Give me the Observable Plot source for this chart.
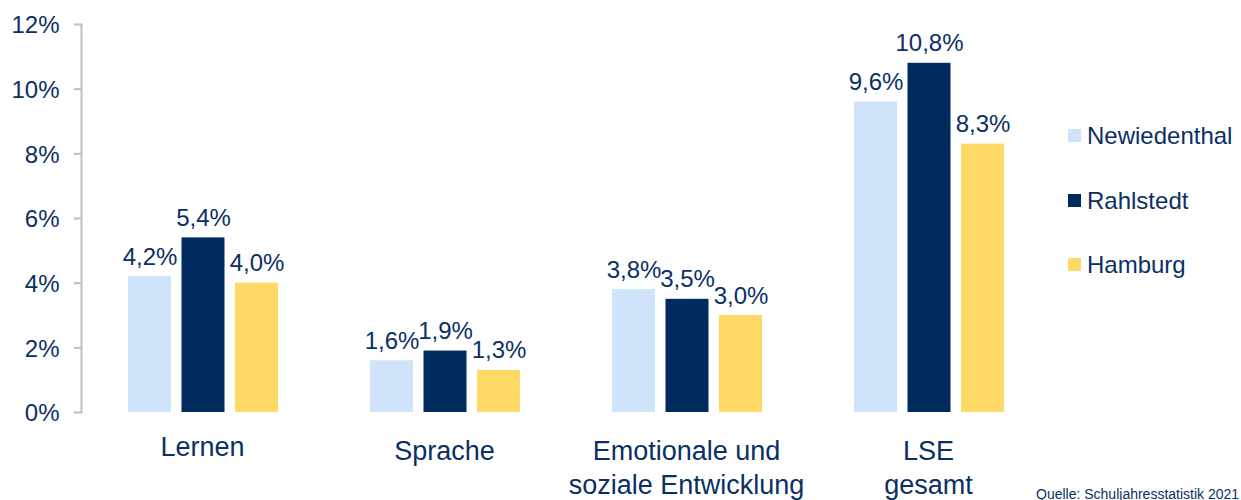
<!DOCTYPE html>
<html>
<head>
<meta charset="utf-8">
<script src="https://cdn.jsdelivr.net/npm/d3@7"></script>
<script src="https://cdn.jsdelivr.net/npm/@observablehq/plot@0.6"></script>
<style>
  html, body { margin: 0; padding: 0; background: #fff; overflow: hidden; }
  #wrap { position: relative; width: 1241px; height: 500px; font-family: "Liberation Sans", Arial, sans-serif; color: #0b2f64; }
  #chart svg { display: block; }
  .lg { position: absolute; left: 1068px; height: 24px; display: flex; align-items: center; font-size: 24px; line-height: 24px; white-space: nowrap; }
  .lg .sw { width: 13px; height: 13px; margin-right: 6px; }
  #src { position: absolute; left: 1036px; top: 487px; font-size: 14px; line-height: 14px; white-space: nowrap; }
</style>
</head>
<body>
<div id="wrap">
  <div id="chart"></div>
</div>
<script>
// ---- data ----
const categories = ["Lernen", "Sprache", "Emotionale und\nsoziale Entwicklung", "LSE\ngesamt"];
const series = ["Newiedenthal", "Rahlstedt", "Hamburg"];
const newiedenthal = [4.2, 1.6, 3.8, 9.6];
const rahlstedt = [5.4, 1.9, 3.5, 10.8];
const hamburg = [4.0, 1.3, 3.0, 8.3];
const yTicks = [0, 2, 4, 6, 8, 10, 12];
const sourceText = "Quelle: Schuljahresstatistik 2021";

// ---- styles ----
const colors = ["#cfe4fa", "#002b5e", "#ffd966"];
const textColor = "#0b2f64";
const axisColor = "#bfbfbf";

const values = [newiedenthal, rahlstedt, hamburg];
const rows = [];
series.forEach((s, i) => categories.forEach((c, j) => rows.push({cat: c, series: s, si: i, value: values[i][j]})));

const band = 242, barW = 43, step = 53.5;
const fmt = v => v.toFixed(1).replace(".", ",") + "%";

const marks = [];
series.forEach((s, i) => {
  const data = rows.filter(d => d.si === i);
  const center = band / 2 + (i - 1) * step + 1;
  const insetLeft = center - barW / 2;
  const insetRight = band - insetLeft - barW;
  marks.push(Plot.barY(data, {x: "cat", y: "value", fill: "series", insetLeft, insetRight}));
  marks.push(Plot.text(data, {x: "cat", y: "value", text: d => fmt(d.value), dx: center - band / 2, dy: -12, lineAnchor: "bottom", fontSize: 24, fill: textColor}));
});

const chart = Plot.plot({
  width: 1241,
  height: 500,
  marginLeft: 81,
  marginRight: 192,
  marginTop: 24,
  marginBottom: 88,
  style: {fontFamily: "'Liberation Sans', Arial, sans-serif", background: "#fff"},
  x: {domain: categories, padding: 0, axis: null},
  y: {domain: [0, 12]},
  color: {domain: series, range: colors},
  marks: [
    Plot.frame({anchor: "left", stroke: axisColor, strokeWidth: 2}),
    Plot.axisY({ticks: yTicks, tickSize: 7, stroke: axisColor, color: axisColor, strokeWidth: 2, tickFormat: () => "", label: null}),
    Plot.axisY({ticks: yTicks, tickSize: 0, tickPadding: 22, color: textColor, fontSize: 24, dy: 1, tickFormat: d => d + "%", label: null}),
    ...marks,
    Plot.text(categories.filter(c => c === "Lernen"), {x: d => d, frameAnchor: "bottom", lineAnchor: "top", dy: 19.8, fontSize: 27, lineHeight: 1.26, fill: textColor}),
    Plot.text(categories.filter(c => c !== "Lernen"), {x: d => d, frameAnchor: "bottom", lineAnchor: "top", dy: 23.8, fontSize: 27, lineHeight: 1.26, fill: textColor})
  ]
});
document.getElementById("chart").appendChild(chart);

// legend
const wrap = document.getElementById("wrap");
const legendTops = [135.5, 200.5, 264.5];
series.forEach((s, i) => {
  const item = document.createElement("div");
  item.className = "lg";
  item.style.top = (legendTops[i] - 12) + "px";
  item.innerHTML = `<div class="sw" style="background:${colors[i]}"></div><span>${s}</span>`;
  wrap.appendChild(item);
});
const src = document.createElement("div");
src.id = "src";
src.textContent = sourceText;
wrap.appendChild(src);
</script>
</body>
</html>
